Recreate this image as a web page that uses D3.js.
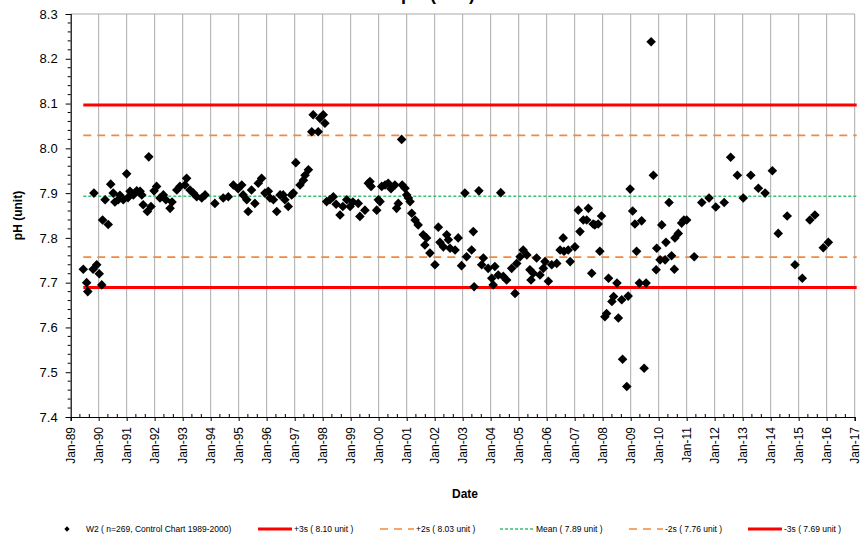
<!DOCTYPE html>
<html>
<head>
<meta charset="utf-8">
<script src="https://cdn.jsdelivr.net/npm/d3@7"></script>
<style>
  body { margin: 0; background: #fff; }
  svg { display: block; font-family: Arial, "Liberation Sans", sans-serif; }
</style>
</head>
<body>
<div id="chart"></div>
<script>
// pH control chart, station W2

// sample dates as decimal years
const sampleYears = [
    1989.45, 1989.57, 1989.61, 1989.80, 1989.83, 1989.93, 1990.02, 1990.11, 1990.14, 1990.23,
    1990.34, 1990.43, 1990.52, 1990.58, 1990.70, 1990.76, 1990.88, 1991.00, 1991.05, 1991.12,
    1991.24, 1991.36, 1991.48, 1991.54, 1991.59, 1991.74, 1991.79, 1991.87, 1991.98, 1992.07,
    1992.19, 1992.31, 1992.40, 1992.55, 1992.62, 1992.79, 1992.90, 1993.08, 1993.14, 1993.26,
    1993.38, 1993.50, 1993.68, 1993.80, 1994.15, 1994.45, 1994.63, 1994.81, 1994.98, 1995.11,
    1995.16, 1995.29, 1995.34, 1995.46, 1995.58, 1995.70, 1995.82, 1995.94, 1996.06, 1996.12,
    1996.24, 1996.36, 1996.48, 1996.59, 1996.65, 1996.77, 1996.89, 1996.95, 1997.04, 1997.19,
    1997.31, 1997.37, 1997.49, 1997.61, 1997.66, 1997.84, 1997.90, 1998.02, 1998.08, 1998.14,
    1998.26, 1998.38, 1998.48, 1998.62, 1998.72, 1998.86, 1998.98, 1999.08, 1999.27, 1999.33,
    1999.51, 1999.63, 1999.69, 1999.73, 1999.93, 1999.99, 2000.05, 2000.11, 2000.23, 2000.34,
    2000.44, 2000.58, 2000.64, 2000.70, 2000.82, 2000.84, 2000.94, 2001.00, 2001.06, 2001.12,
    2001.18, 2001.30, 2001.41, 2001.59, 2001.65, 2001.71, 2001.83, 2002.01, 2002.13, 2002.19,
    2002.31, 2002.43, 2002.49, 2002.55, 2002.73, 2002.84, 2002.96, 2003.08, 2003.14, 2003.32,
    2003.38, 2003.41, 2003.58, 2003.68, 2003.74, 2003.91, 2004.04, 2004.09, 2004.15, 2004.27,
    2004.36, 2004.45, 2004.57, 2004.75, 2004.87, 2004.93, 2005.05, 2005.16, 2005.29, 2005.40,
    2005.44, 2005.52, 2005.64, 2005.76, 2005.88, 2005.94, 2006.06, 2006.18, 2006.36, 2006.48,
    2006.59, 2006.62, 2006.77, 2006.84, 2007.01, 2007.13, 2007.19, 2007.31, 2007.43, 2007.49,
    2007.61, 2007.66, 2007.72, 2007.84, 2007.90, 2007.96, 2008.08, 2008.14, 2008.21, 2008.33,
    2008.39, 2008.51, 2008.56, 2008.68, 2008.71, 2008.86, 2008.91, 2008.98, 2009.07, 2009.15,
    2009.21, 2009.31, 2009.39, 2009.48, 2009.55, 2009.73, 2009.81, 2009.91, 2009.93, 2010.05,
    2010.11, 2010.23, 2010.26, 2010.37, 2010.46, 2010.56, 2010.58, 2010.70, 2010.82, 2010.90,
    2011.00, 2011.27, 2011.54, 2011.80, 2012.04, 2012.34, 2012.57, 2012.81, 2013.02, 2013.29,
    2013.56, 2013.80, 2014.06, 2014.27, 2014.59, 2014.87, 2015.13, 2015.40, 2015.58, 2015.88,
    2016.06
];

const phValues = [
    7.73, 7.70, 7.68, 7.73, 7.90, 7.74, 7.72, 7.695, 7.84, 7.885,
    7.83, 7.92, 7.90, 7.88, 7.885, 7.895, 7.885, 7.943, 7.89, 7.904,
    7.896, 7.905, 7.904, 7.896, 7.874, 7.859, 7.981, 7.87, 7.905, 7.915,
    7.889, 7.896, 7.885, 7.866, 7.88, 7.907, 7.915, 7.918, 7.933, 7.907,
    7.90, 7.892, 7.889, 7.896, 7.877, 7.889, 7.892, 7.918, 7.91, 7.918,
    7.896, 7.885, 7.859, 7.907, 7.877, 7.922, 7.933, 7.90, 7.904, 7.889,
    7.885, 7.859, 7.896, 7.896, 7.885, 7.87, 7.896, 7.90, 7.968, 7.918,
    7.929, 7.94, 7.952, 8.037, 8.075, 8.037, 8.067, 8.075, 8.056, 7.881,
    7.885, 7.892, 7.875, 7.851, 7.87, 7.885, 7.87, 7.88, 7.877, 7.848,
    7.862, 7.922, 7.926, 7.915, 7.862, 7.885, 7.881, 7.915, 7.918, 7.922,
    7.91, 7.918, 7.866, 7.877, 8.02, 7.918, 7.911, 7.896, 7.889, 7.881,
    7.855, 7.84, 7.829, 7.807, 7.784, 7.80, 7.766, 7.74, 7.824, 7.79,
    7.78, 7.807, 7.796, 7.777, 7.773, 7.80, 7.738, 7.90, 7.758, 7.773,
    7.814, 7.691, 7.905, 7.74, 7.755, 7.732, 7.71, 7.695, 7.736, 7.717,
    7.901, 7.714, 7.706, 7.732, 7.676, 7.743, 7.758, 7.773, 7.762, 7.729,
    7.706, 7.721, 7.755, 7.717, 7.732, 7.747, 7.703, 7.74, 7.743, 7.773,
    7.80, 7.77, 7.773, 7.747, 7.78, 7.862, 7.814, 7.84, 7.84, 7.866,
    7.721, 7.831, 7.829, 7.831, 7.77, 7.849, 7.624, 7.631, 7.71, 7.658,
    7.669, 7.699, 7.621, 7.662, 7.529, 7.468, 7.67, 7.909, 7.86, 7.831,
    7.77, 7.699, 7.838, 7.509, 7.699, 8.238, 7.94, 7.729, 7.777, 7.751,
    7.829, 7.751, 7.79, 7.879, 7.76, 7.73, 7.80, 7.81, 7.833, 7.84,
    7.84, 7.758, 7.879, 7.889, 7.869, 7.879, 7.98, 7.94, 7.889, 7.94,
    7.911, 7.90, 7.95, 7.81, 7.849, 7.74, 7.71, 7.84, 7.851, 7.778,
    7.79
];

// control limits
const limitNames = ['+3s', '+2s', 'Mean', '-2s', '-3s'];
const limitValues = [8.10, 8.03, 7.89, 7.76, 7.69];
const limitLineValues = [8.097, 8.029, 7.893, 7.757, 7.689];

const yTicks = [7.4, 7.5, 7.6, 7.7, 7.8, 7.9, 8.0, 8.1, 8.2, 8.3];

// Configuration
const width = 863;
const height = 537;
const plotLeft = 70.7;
const plotRight = 854.7;
const plotTop = 14;
const plotBottom = 417;

function decToDate(y) {
    const yr = Math.floor(y);
    const start = new Date(yr, 0, 1);
    const end = new Date(yr + 1, 0, 1);
    return new Date(+start + (y - yr) * (end - start));
}

const points = sampleYears.map((y, i) => ({ date: decToDate(y), value: phValues[i] }));

const limitStyles = {
    '+3s': { color: '#ff0000', width: 3, dash: null },
    '+2s': { color: '#f08a3c', width: 1.6, dash: '8,6' },
    'Mean': { color: '#3cbf74', width: 1.6, dash: '3,2' },
    '-2s': { color: '#f08a3c', width: 1.6, dash: '8,6' },
    '-3s': { color: '#ff0000', width: 3, dash: null }
};

const svg = d3.select('#chart')
    .append('svg')
    .attr('width', width)
    .attr('height', height)
    .attr('viewBox', `0 0 ${width} ${height}`);

const x = d3.scaleTime()
    .domain([new Date(1989, 0, 1), new Date(2017, 0, 1)])
    .range([plotLeft, plotRight]);

const y = d3.scaleLinear()
    .domain([7.4, 8.3])
    .range([plotBottom, plotTop]);

// Title (clipped at the top edge, as in the source chart)
svg.append('text')
    .attr('x', 438)
    .attr('y', -0.5)
    .attr('text-anchor', 'middle')
    .style('font-size', '18px')
    .style('font-weight', 'bold')
    .text('pH (unit)');

// Vertical gridlines
const yearTicks = x.ticks(d3.timeYear.every(1));
svg.append('g')
    .selectAll('line')
    .data(yearTicks.slice(1))
    .join('line')
    .attr('x1', d => x(d))
    .attr('x2', d => x(d))
    .attr('y1', plotTop)
    .attr('y2', plotBottom)
    .attr('stroke', '#ababab')
    .attr('stroke-width', 1);

// top border
svg.append('line')
    .attr('x1', plotLeft)
    .attr('x2', plotRight)
    .attr('y1', plotTop)
    .attr('y2', plotTop)
    .attr('stroke', '#ababab');

// Control limit lines, from first sample to right edge
const firstDate = points[0].date;
limitNames.forEach((name, i) => {
    const st = limitStyles[name];
    svg.append('line')
        .attr('x1', x(firstDate))
        .attr('x2', plotRight + 2)
        .attr('y1', y(limitLineValues[i]))
        .attr('y2', y(limitLineValues[i]))
        .attr('stroke', st.color)
        .attr('stroke-width', st.width)
        .attr('stroke-dasharray', st.dash);
});

// Y axis
const yAxis = d3.axisLeft(y)
    .tickValues(yTicks)
    .tickFormat(d3.format('.1f'))
    .tickSize(5)
    .tickPadding(8);

const yG = svg.append('g')
    .attr('transform', `translate(${plotLeft},0)`)
    .call(yAxis);
yG.select('.domain').attr('stroke', '#000').attr('stroke-width', 1.2);
yG.selectAll('text').style('font-size', '13px').attr('fill', '#000');

// y minor ticks
svg.append('g')
    .selectAll('line')
    .data(d3.range(7.42, 8.3, 0.02).filter(v => Math.abs(v * 10 - Math.round(v * 10)) > 0.01))
    .join('line')
    .attr('x1', plotLeft - 3)
    .attr('x2', plotLeft)
    .attr('y1', d => y(d))
    .attr('y2', d => y(d))
    .attr('stroke', '#000');

// X axis
const xAxis = d3.axisBottom(x)
    .ticks(d3.timeYear.every(1))
    .tickFormat(d3.timeFormat('Jan-%y'))
    .tickSize(4)
    .tickPadding(8);

const xG = svg.append('g')
    .attr('transform', `translate(0,${plotBottom})`)
    .call(xAxis);
xG.select('.domain').attr('stroke', '#000').attr('stroke-width', 1.2);
xG.selectAll('text')
    .style('font-size', '12px')
    .attr('fill', '#000')
    .attr('text-anchor', 'end')
    .attr('transform', 'rotate(-90)')
    .attr('x', -10)
    .attr('y', 0)
    .attr('dy', '0.35em');

// x minor ticks
svg.append('g')
    .selectAll('line')
    .data(x.ticks(d3.timeMonth.every(4)).filter(d => d.getMonth() !== 0))
    .join('line')
    .attr('x1', d => x(d))
    .attr('x2', d => x(d))
    .attr('y1', plotBottom - 3)
    .attr('y2', plotBottom)
    .attr('stroke', '#000');

// Axis titles
svg.append('text')
    .attr('x', 465)
    .attr('y', 498)
    .attr('text-anchor', 'middle')
    .style('font-size', '12px')
    .style('font-weight', 'bold')
    .text('Date');

svg.append('text')
    .attr('transform', `translate(22,${(plotTop + plotBottom) / 2}) rotate(-90)`)
    .attr('text-anchor', 'middle')
    .style('font-size', '12px')
    .style('font-weight', 'bold')
    .text('pH (unit)');

// Data points
const diamond = d3.symbol().type(d3.symbolSquare).size(46);
svg.append('g')
    .selectAll('path')
    .data(points)
    .join('path')
    .attr('d', diamond)
    .attr('transform', d => `translate(${x(d.date)},${y(d.value)}) rotate(45)`)
    .attr('fill', '#000');

// Legend
const legendY = 529;
const legend = svg.append('g').style('font-size', '8.5px');

legend.append('path')
    .attr('d', d3.symbol().type(d3.symbolSquare).size(14)())
    .attr('transform', `translate(67,${legendY}) rotate(45)`)
    .attr('fill', '#000');
legend.append('text')
    .attr('x', 86)
    .attr('y', legendY)
    .attr('dy', '0.35em')
    .text('W2  ( n=269, Control Chart 1989-2000)');

const legendLineX = [258, 380, 500, 629, 748];
limitNames.forEach((name, i) => {
    const st = limitStyles[name];
    legend.append('line')
        .attr('x1', legendLineX[i])
        .attr('x2', legendLineX[i] + 34)
        .attr('y1', legendY)
        .attr('y2', legendY)
        .attr('stroke', st.color)
        .attr('stroke-width', st.width)
        .attr('stroke-dasharray', st.dash);
    legend.append('text')
        .attr('x', legendLineX[i] + 36)
        .attr('y', legendY)
        .attr('dy', '0.35em')
        .text(`${name} ( ${limitValues[i].toFixed(2)} unit )`);
});
</script>
</body>
</html>
